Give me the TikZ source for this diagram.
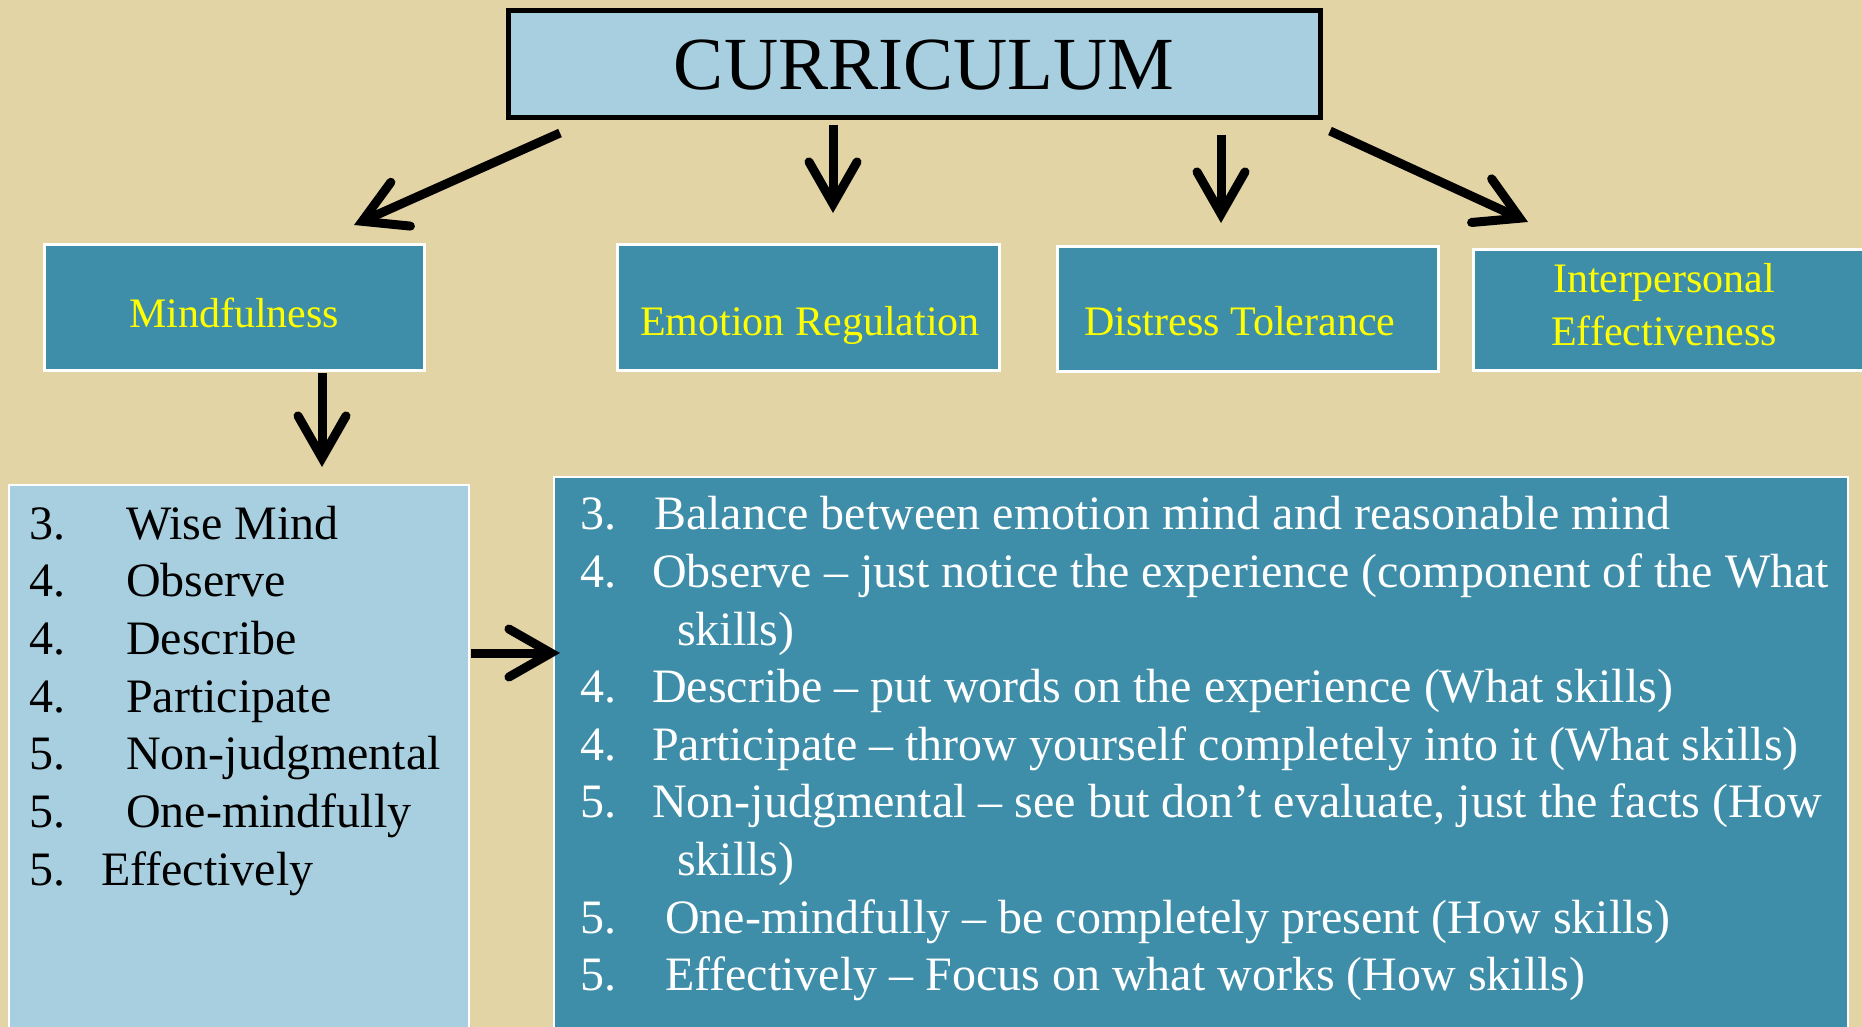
\documentclass[tikz,border=0pt]{standalone}
\usepackage{fontspec}
\setmainfont{Liberation Serif}
\usetikzlibrary{arrows.meta}
\definecolor{bgcol}{HTML}{E2D4A4}
\definecolor{tealbox}{HTML}{3E8DA9}
\definecolor{lblue}{HTML}{A8CFE0}
\definecolor{ylw}{HTML}{FFFF00}
\begin{document}
\begin{tikzpicture}[x=1pt,y=-1pt,
  topbox/.style={draw=white, line width=3pt, fill=tealbox, inner sep=0pt},
  listbox/.style={draw=white, line width=2pt, inner sep=0pt},
  toptext/.style={text=ylw, font=\fontsize{42}{48}\selectfont, anchor=base, inner sep=0pt},
  item/.style={anchor=base west, inner sep=0pt, font=\fontsize{48}{56}\selectfont},
  litem/.style={item, text=black},
  ritem/.style={item, text=white},
  arr/.style={line width=9pt, -{Straight Barb[length=42pt,width=48pt,line cap=round]}}]

\useasboundingbox (0,0) rectangle (1862,1027);
\clip (0,0) rectangle (1862,1027);
\fill[bgcol] (0,0) rectangle (1862,1027);

% header box
\node[draw=black, line width=5pt, fill=lblue, inner sep=0pt, minimum width=812pt, minimum height=107pt] (cur) at (914.5,64) {};
\node[anchor=base, inner sep=0pt, font=\fontsize{75}{80}\selectfont] (curT) at (924,90) {CURRICULUM};

% category boxes
\node[topbox, minimum width=380pt, minimum height=126pt] (mind) at (234.5,307.5) {};
\node[topbox, minimum width=382pt, minimum height=126pt] (emo) at (808.5,307.5) {};
\node[topbox, minimum width=381pt, minimum height=125pt] (dist) at (1248,309) {};
\node[topbox, minimum width=405pt, minimum height=121pt] (inter) at (1676,310) {};

\node[toptext] (mindT) at (234,327) {Mindfulness};
\node[toptext] (emoT) at (810,335) {Emotion Regulation};
\node[toptext] (distT) at (1240,335) {Distress Tolerance};
\node[toptext] (interT1) at (1664,292) {Interpersonal};
\node[toptext] (interT2) at (1664,345) {Effectiveness};

% list boxes
\node[listbox, fill=lblue, minimum width=460pt, minimum height=554pt] (lbox) at (239,762) {};
\node[listbox, fill=tealbox, minimum width=1294pt, minimum height=562pt] (rbox) at (1201,758) {};

% left list
\node[litem] (l1n) at (29,539) {3.};   \node[litem] (l1) at (126,539) {Wise Mind};
\node[litem] (l2n) at (29,596.7) {4.}; \node[litem] (l2) at (126,596.7) {Observe};
\node[litem] (l3n) at (29,654.4) {4.}; \node[litem] (l3) at (126,654.4) {Describe};
\node[litem] (l4n) at (29,712.1) {4.}; \node[litem] (l4) at (126,712.1) {Participate};
\node[litem] (l5n) at (29,769.8) {5.}; \node[litem] (l5) at (126,769.8) {Non-judgmental};
\node[litem] (l6n) at (29,827.5) {5.}; \node[litem] (l6) at (126,827.5) {One-mindfully};
\node[litem] (l7n) at (29,885.2) {5.}; \node[litem] (l7) at (101,885.2) {Effectively};

% right list
\node[ritem] (r1n) at (580,529) {3.}; \node[ritem] (r1) at (654,529) {Balance between emotion mind and reasonable mind};
\node[ritem] (r2n) at (580,587) {4.}; \node[ritem] (r2) at (652,587) {Observe – just notice the experience (component of the What};
\node[ritem] (r2b) at (677,645) {skills)};
\node[ritem] (r3n) at (580,702) {4.}; \node[ritem] (r3) at (652,702) {Describe – put words on the experience (What skills)};
\node[ritem] (r4n) at (580,760) {4.}; \node[ritem] (r4) at (652,760) {Participate – throw yourself completely into it (What skills)};
\node[ritem] (r5n) at (580,817) {5.}; \node[ritem] (r5) at (652,817) {Non-judgmental – see but don’t evaluate, just the facts (How};
\node[ritem] (r5b) at (677,875) {skills)};
\node[ritem] (r6n) at (580,933) {5.}; \node[ritem] (r6) at (665,933) {One-mindfully – be completely present (How skills)};
\node[ritem] (r7n) at (580,990) {5.}; \node[ritem] (r7) at (665,990) {Effectively – Focus on what works (How skills)};

% arrow end points
\coordinate (a1s) at (560,133);  \coordinate (a1e) at (354,225);
\coordinate (a2s) at (833,125);  \coordinate (a2e) at (833,213);
\coordinate (a3s) at (1221,135); \coordinate (a3e) at (1221,223);
\coordinate (a4s) at (1330,131); \coordinate (a4e) at (1528,222);
\coordinate (a5s) at (322,373);  \coordinate (a5e) at (322,467);
\coordinate (a6s) at (471,653);  \coordinate (a6e) at (560,653);

\draw[arr] (a1s) -- (a1e);
\draw[arr] (a2s) -- (a2e);
\draw[arr] (a3s) -- (a3e);
\draw[arr] (a4s) -- (a4e);
\draw[arr] (a5s) -- (a5e);
\draw[arr] (a6s) -- (a6e);
\end{tikzpicture}
\end{document}
